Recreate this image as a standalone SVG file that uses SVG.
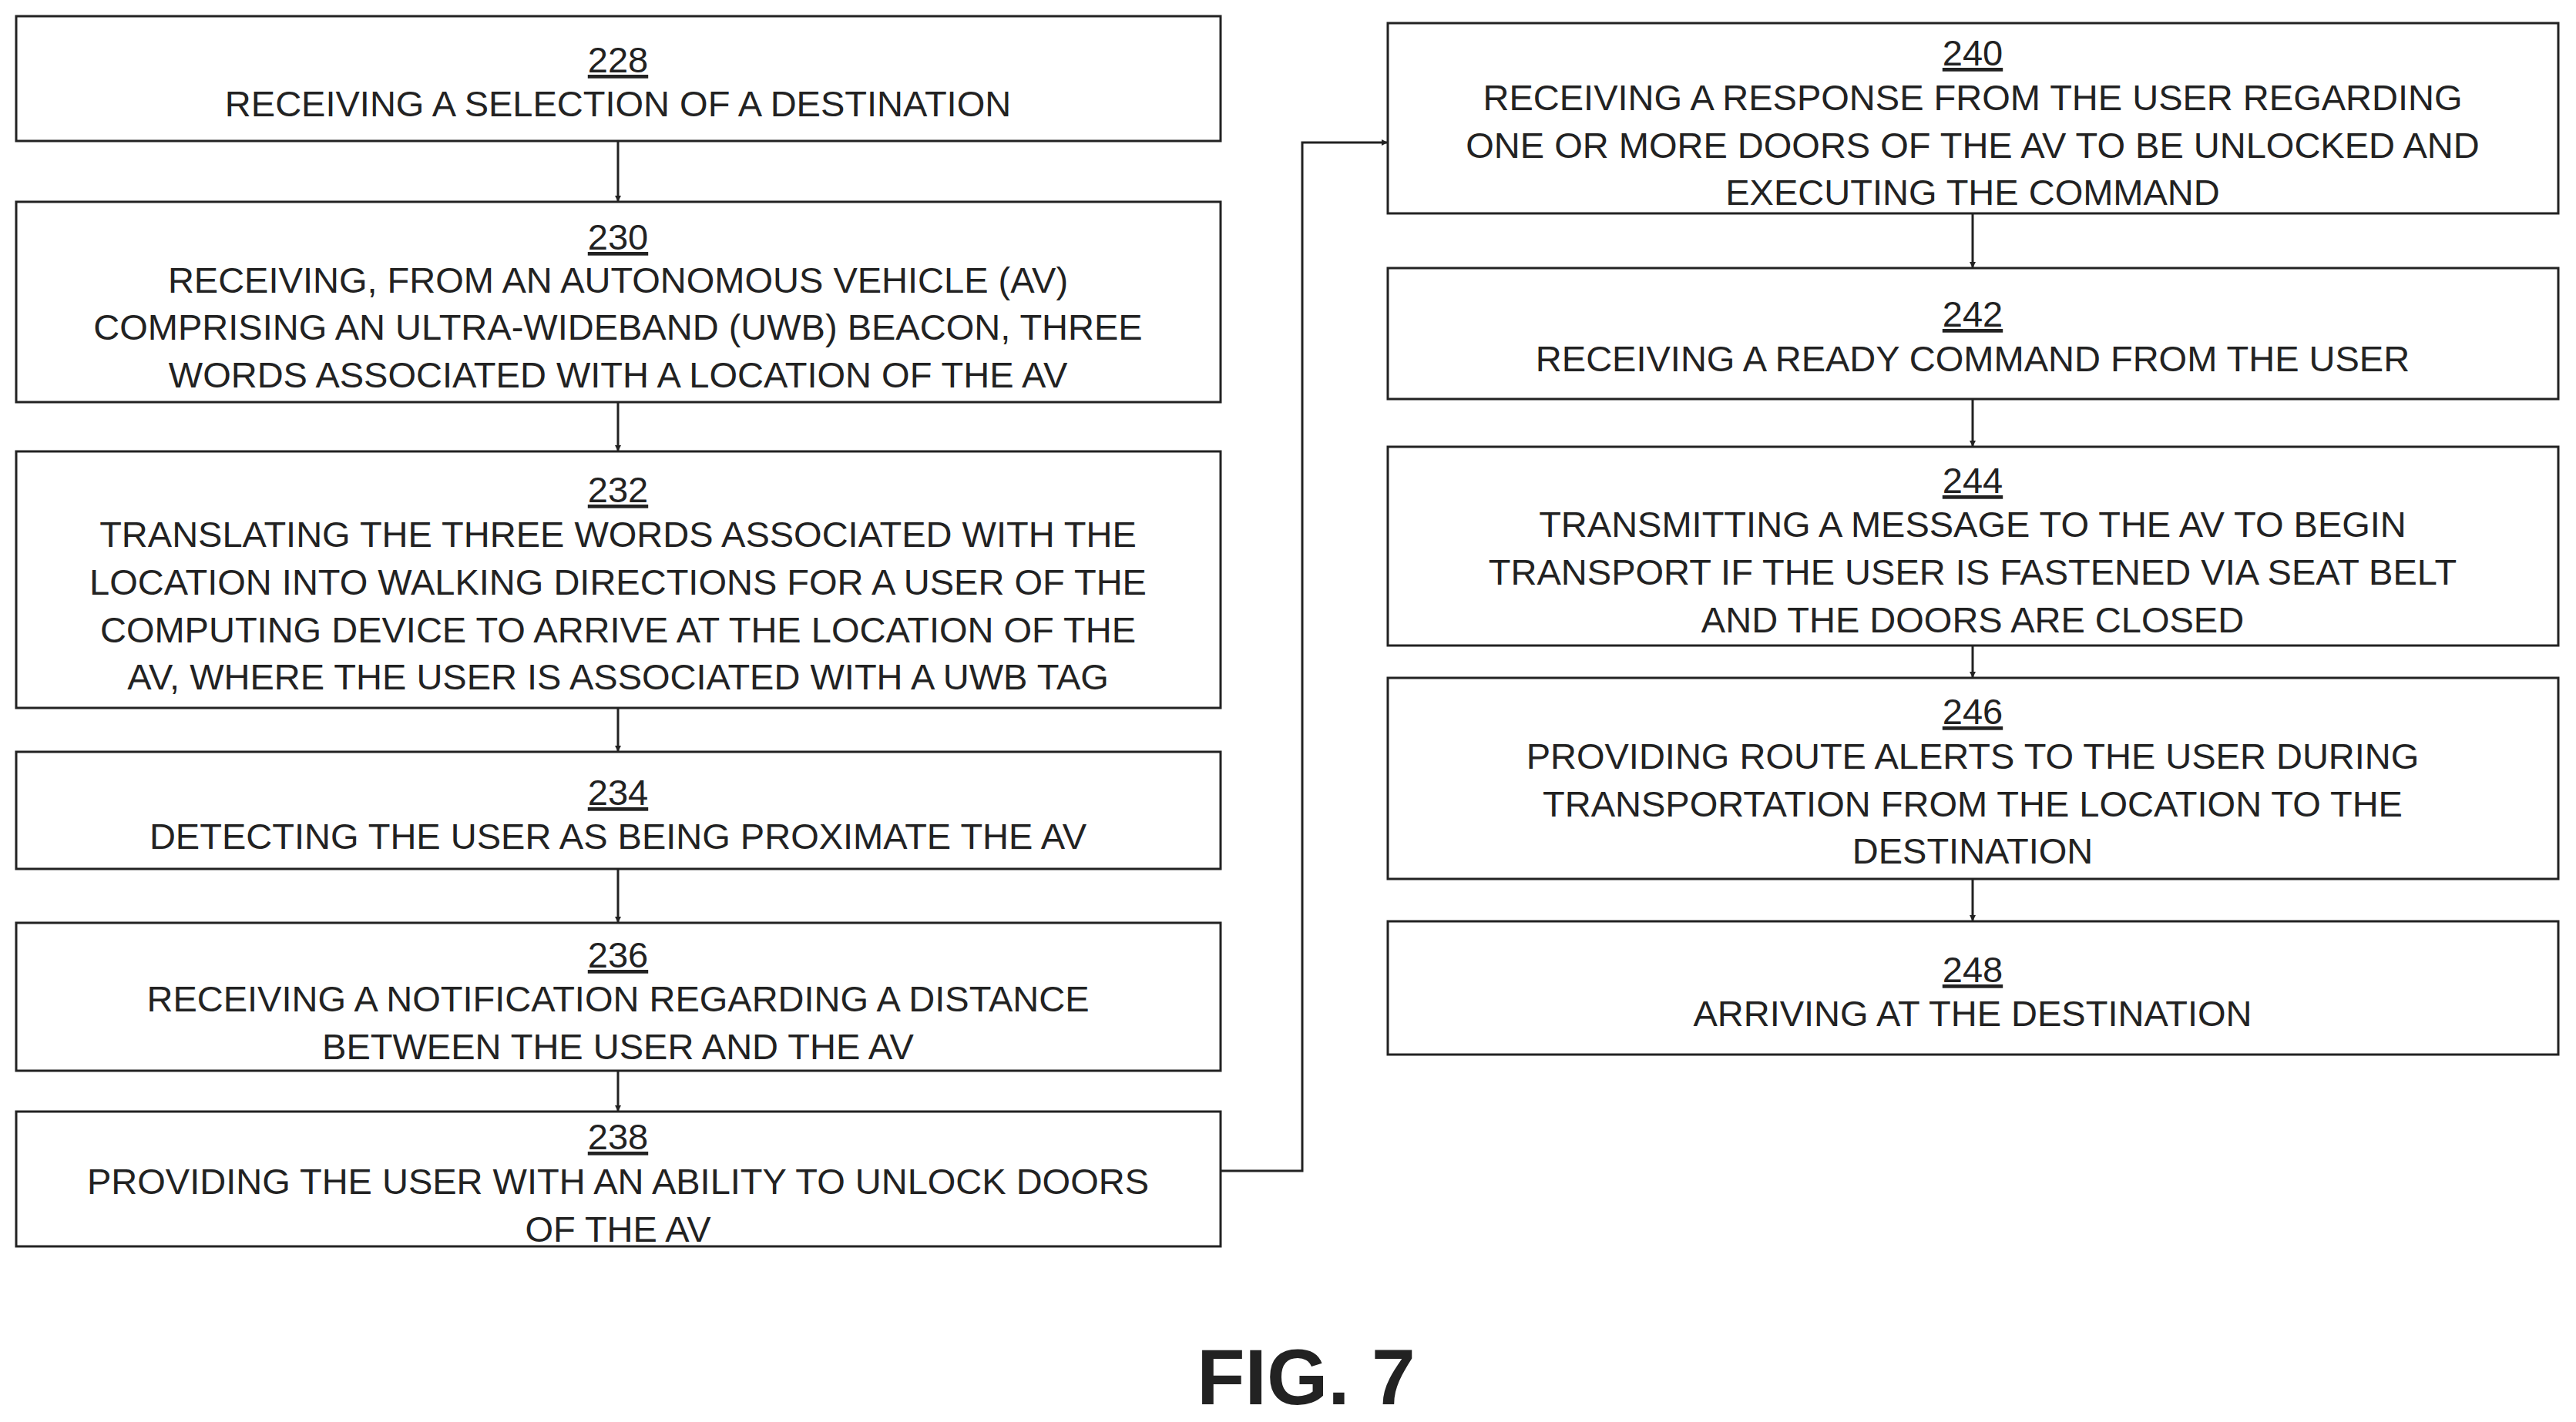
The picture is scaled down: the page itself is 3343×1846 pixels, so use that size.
<svg xmlns="http://www.w3.org/2000/svg" width="3343" height="1846" viewBox="0 0 3343 1846">
<style>
rect{fill:#fff;stroke:#222;stroke-width:3}
text{font-family:"Liberation Sans",Arial,sans-serif;font-size:47px;fill:#222;text-anchor:middle}
.n{text-decoration:underline}
.c{fill:none;stroke:#222;stroke-width:3}
</style>
<defs><marker id="a" viewBox="0 0 10 10" refX="10" refY="5" markerWidth="8" markerHeight="8" markerUnits="userSpaceOnUse" orient="auto"><path d="M0,0L10,5L0,10z" fill="#222" transform="scale(1)"/></marker></defs>
<rect width="3343" height="1846" style="stroke:none"/>
<g id="connectors">
<path class="c" marker-end="url(#a)" d="M802,183V262" style="marker-end:url(#a)"/>
<path class="c" d="M802,522V586" marker-end="url(#a)"/>
<path class="c" d="M802,919V976" marker-end="url(#a)"/>
<path class="c" d="M802,1128V1198" marker-end="url(#a)"/>
<path class="c" d="M802,1390V1443" marker-end="url(#a)"/>
<path class="c" d="M1584,1520H1690V185H1801" marker-end="url(#a)"/>
<path class="c" d="M2560,277V348" marker-end="url(#a)"/>
<path class="c" d="M2560,518V580" marker-end="url(#a)"/>
<path class="c" d="M2560,838V880" marker-end="url(#a)"/>
<path class="c" d="M2560,1141V1196" marker-end="url(#a)"/>
</g>
<g id="n228"><rect x="21" y="21" width="1563" height="162"/><text class="n" x="802" y="94">228</text><text x="802" y="151">RECEIVING A SELECTION OF A DESTINATION</text></g>
<g id="n230"><rect x="21" y="262" width="1563" height="260"/><text class="n" x="802" y="324">230</text><text x="802" y="380">RECEIVING, FROM AN AUTONOMOUS VEHICLE (AV)</text><text x="802" y="441">COMPRISING AN ULTRA-WIDEBAND (UWB) BEACON, THREE</text><text x="802" y="503">WORDS ASSOCIATED WITH A LOCATION OF THE AV</text></g>
<g id="n232"><rect x="21" y="586" width="1563" height="333"/><text class="n" x="802" y="652">232</text><text x="802" y="710">TRANSLATING THE THREE WORDS ASSOCIATED WITH THE</text><text x="802" y="772">LOCATION INTO WALKING DIRECTIONS FOR A USER OF THE</text><text x="802" y="834">COMPUTING DEVICE TO ARRIVE AT THE LOCATION OF THE</text><text x="802" y="895">AV, WHERE THE USER IS ASSOCIATED WITH A UWB TAG</text></g>
<g id="n234"><rect x="21" y="976" width="1563" height="152"/><text class="n" x="802" y="1045">234</text><text x="802" y="1102">DETECTING THE USER AS BEING PROXIMATE THE AV</text></g>
<g id="n236"><rect x="21" y="1198" width="1563" height="192"/><text class="n" x="802" y="1256">236</text><text x="802" y="1313">RECEIVING A NOTIFICATION REGARDING A DISTANCE</text><text x="802" y="1375">BETWEEN THE USER AND THE AV</text></g>
<g id="n238"><rect x="21" y="1443" width="1563" height="175"/><text class="n" x="802" y="1492">238</text><text x="802" y="1550">PROVIDING THE USER WITH AN ABILITY TO UNLOCK DOORS</text><text x="802" y="1612">OF THE AV</text></g>
<g id="n240"><rect x="1801" y="30" width="1519" height="247"/><text class="n" x="2560" y="85">240</text><text x="2560" y="143">RECEIVING A RESPONSE FROM THE USER REGARDING</text><text x="2560" y="205">ONE OR MORE DOORS OF THE AV TO BE UNLOCKED  AND</text><text x="2560" y="266">EXECUTING THE COMMAND</text></g>
<g id="n242"><rect x="1801" y="348" width="1519" height="170"/><text class="n" x="2560" y="424">242</text><text x="2560" y="482">RECEIVING A READY COMMAND FROM THE USER</text></g>
<g id="n244"><rect x="1801" y="580" width="1519" height="258"/><text class="n" x="2560" y="640">244</text><text x="2560" y="697">TRANSMITTING A MESSAGE TO THE AV TO BEGIN</text><text x="2560" y="759">TRANSPORT IF THE USER IS FASTENED VIA SEAT BELT</text><text x="2560" y="821">AND THE DOORS ARE CLOSED</text></g>
<g id="n246"><rect x="1801" y="880" width="1519" height="261"/><text class="n" x="2560" y="940">246</text><text x="2560" y="998">PROVIDING ROUTE ALERTS TO THE USER DURING</text><text x="2560" y="1060">TRANSPORTATION FROM THE LOCATION TO THE</text><text x="2560" y="1121">DESTINATION</text></g>
<g id="n248"><rect x="1801" y="1196" width="1519" height="173"/><text class="n" x="2560" y="1275">248</text><text x="2560" y="1332">ARRIVING AT THE DESTINATION</text></g>
<text x="1695" y="1823" style="font-size:102px;font-weight:bold">FIG. 7</text>
</svg>
